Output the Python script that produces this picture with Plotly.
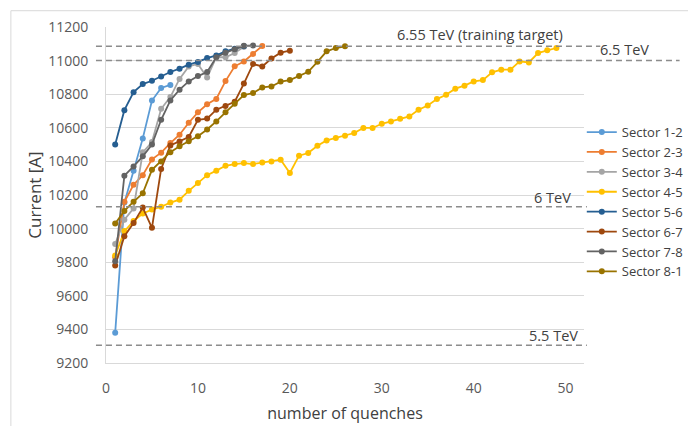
import plotly.graph_objects as go

# ---- data ----
sector_names = ["Sector 1-2", "Sector 2-3", "Sector 3-4", "Sector 4-5",
                "Sector 5-6", "Sector 6-7", "Sector 7-8", "Sector 8-1"]
sector_colors = ["#5B9BD5", "#ED7D31", "#A5A5A5", "#FFC000",
                 "#255E91", "#9E480E", "#636363", "#997300"]

s12 = [9380, 10155, 10345, 10537, 10762, 10837, 10855]
s23 = [9830, 10160, 10261, 10318, 10412, 10452, 10509, 10559, 10630, 10692,
       10740, 10772, 10878, 10966, 10995, 11040, 11087]
s34 = [9908, 10053, 10120, 10454, 10515, 10713, 10783, 10891, 10965, 10980,
       10900, 11020, 11020, 11045, 11083]
s45 = [9840, 9985, 10045, 10090, 10113, 10130, 10155, 10172, 10225, 10272,
       10318, 10345, 10374, 10384, 10390, 10384, 10394, 10400, 10410, 10331,
       10434, 10450, 10493, 10525, 10539, 10553, 10569, 10599, 10599, 10624,
       10638, 10654, 10668, 10708, 10733, 10771, 10797, 10833, 10851, 10876,
       10884, 10930, 10946, 10946, 10995, 10989, 11045, 11061, 11075]
s56 = [10500, 10705, 10812, 10860, 10880, 10905, 10932, 10952, 10976, 10992,
       11015, 11031, 11055, 11071, 11086]
s67 = [9780, 9955, 10033, 10125, 10005, 10355, 10495, 10519, 10545, 10648,
       10655, 10708, 10730, 10755, 10863, 10980, 10965, 11012, 11047, 11059]
s78 = [9805, 10315, 10370, 10430, 10500, 10648, 10763, 10827, 10876, 10908,
       10932, 11020, 11047, 11068, 11088, 11090]
s81 = [10030, 10105, 10160, 10210, 10350, 10400, 10455, 10490, 10520, 10550,
       10590, 10638, 10692, 10743, 10795, 10807, 10840, 10846, 10875, 10884,
       10908, 10933, 10993, 11055, 11075, 11085]
sector_values = [s12, s23, s34, s45, s56, s67, s78, s81]

level_labels = ["6.55 TeV (training target)", "6.5 TeV", "6 TeV", "5.5 TeV"]
level_currents = [11085, 11000, 10130, 9305]

y_ticks = list(range(9200, 11201, 200))
x_ticks = [0, 10, 20, 30, 40, 50]

# ---- figure ----
FONT = "Open Sans"
TXT = "#595959"

fig = go.Figure()
for name, color, vals in zip(sector_names, sector_colors, sector_values):
    fig.add_trace(go.Scatter(
        x=list(range(1, len(vals) + 1)), y=vals, name=name,
        mode="lines+markers",
        line=dict(color=color, width=1.8),
        marker=dict(color=color, size=6, symbol="circle"),
    ))

# reference lines (dashed), x in paper coordinates
line_spans = [(-0.021, 1.034), (-0.021, 1.20), (-0.021, 1.006), (-0.021, 1.006)]
for (x0, x1), yv in zip(line_spans, level_currents):
    fig.add_shape(type="line", xref="paper", yref="y", x0=x0, x1=x1, y0=yv, y1=yv,
                  line=dict(color="#8C8C8C", width=1.5, dash="6px,4px"))

ann_pos = [(0.7825, 11154), (1.0845, 11064), (0.934, 10186), (0.9365, 9362)]
for txt, (ax, ay) in zip(level_labels, ann_pos):
    fig.add_annotation(text=txt, xref="paper", yref="y", x=ax, y=ay,
                       showarrow=False, xanchor="center", yanchor="middle",
                       font=dict(family=FONT, size=14.5, color="#404040"))

# faint chart-area border (top and left)
fig.add_shape(type="line", xref="paper", yref="paper", x0=-0.199, x1=1.3,
              y0=1.0485, y1=1.0485, line=dict(color="#D9D9D9", width=1))
fig.add_shape(type="line", xref="paper", yref="paper", x0=-0.199, x1=-0.199,
              y0=-0.3, y1=1.0485, line=dict(color="#D9D9D9", width=1))

# the page body adds an 8px margin, so the figure is 8px smaller than the window
fig.update_layout(
    width=688, height=418,
    margin=dict(l=98, r=112, t=19, b=63, autoexpand=False),
    paper_bgcolor="white", plot_bgcolor="white",
    font=dict(family=FONT, size=14, color=TXT),
    showlegend=True,
    legend=dict(xref="container", yref="container", x=0.834, xanchor="left",
                y=0.739, yanchor="top",
                font=dict(family=FONT, size=13, color="#404040"),
                bgcolor="rgba(0,0,0,0)", tracegroupgap=0),
    xaxis=dict(range=[0, 52], tickvals=x_ticks, showgrid=False, zeroline=False,
               automargin=False,
               showline=True, linecolor="#D9D9D9", linewidth=1, ticks="",
               ticklabelstandoff=12,
               tickfont=dict(family=FONT, size=14, color=TXT),
               title=dict(text="number of quenches", standoff=12,
                          font=dict(family=FONT, size=16, color="#404040"))),
    yaxis=dict(range=[9200, 11200], tickvals=y_ticks, tickformat="d",
               automargin=False,
               showgrid=True, gridcolor="#D9D9D9", gridwidth=1, zeroline=False,
               showline=True, linecolor="#D9D9D9", linewidth=1, ticks="",
               ticklabelstandoff=14,
               tickfont=dict(family=FONT, size=14, color=TXT),
               title=dict(text="Current [A]", standoff=2,
                          font=dict(family=FONT, size=17, color="#404040"))),
)

fig.write_html("out.html")
